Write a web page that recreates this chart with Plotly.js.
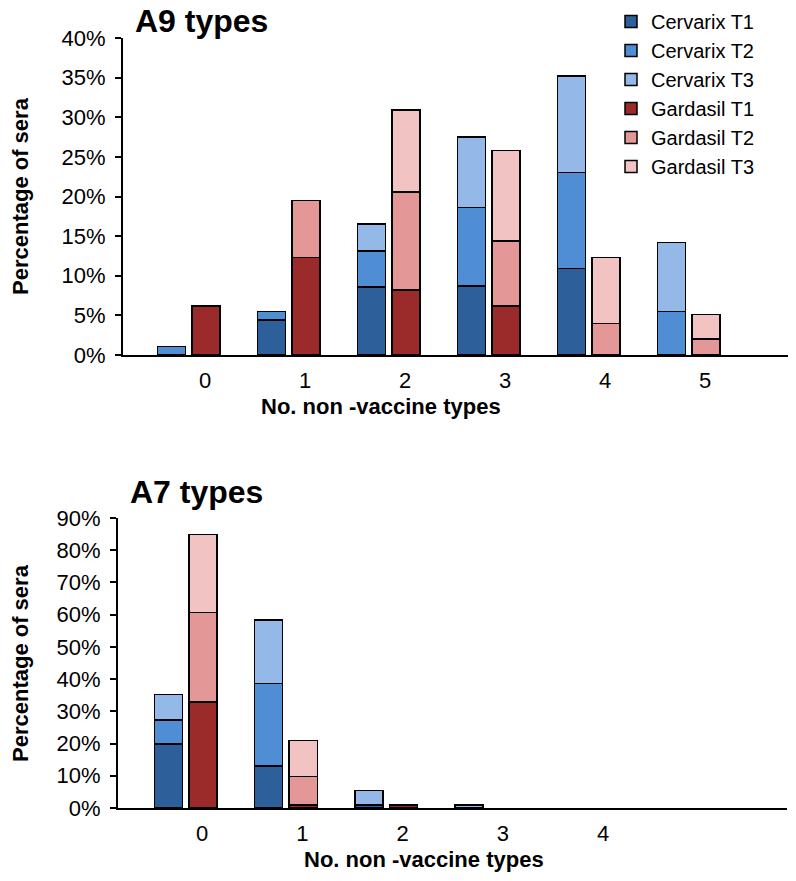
<!DOCTYPE html>
<html>
<head>
<meta charset="utf-8">
<script src="https://cdn.plot.ly/plotly-3.0.1.min.js"></script>
<style>html,body{margin:0;padding:0;background:#fff;}#chart{width:796px;height:881px;}</style>
</head>
<body>
<div id="chart"></div>
<script>
// ---- Data (segment heights, % of sera) ----
const a9Categories = [0, 1, 2, 3, 4, 5];
const a9CervarixT1 = [null, 4.4, 8.6, 8.7, 10.9, null];
const a9CervarixT2 = [1.1, 1.1, 4.5, 9.9, 12.1, 5.5];
const a9CervarixT3 = [null, null, 3.4, 8.9, 12.2, 8.7];
const a9GardasilT1 = [6.2, 12.3, 8.2, 6.2, null, null];
const a9GardasilT2 = [null, 7.2, 12.4, 8.2, 4.0, 2.0];
const a9GardasilT3 = [null, null, 10.3, 11.4, 8.3, 3.1];

const a7Categories = [0, 1, 2, 3, 4];
const a7CervarixT1 = [19.8, 13.0, 1.0, null, null];
const a7CervarixT2 = [7.5, 25.7, null, null, null];
const a7CervarixT3 = [8.0, 19.6, 4.4, 1.0, null];
const a7GardasilT1 = [32.9, 1.0, 1.0, null, null];
const a7GardasilT2 = [27.7, 8.7, null, null, null];
const a7GardasilT3 = [24.3, 11.2, null, null, null];

const seriesNames = ['Cervarix T1','Cervarix T2','Cervarix T3','Gardasil T1','Gardasil T2','Gardasil T3'];
const yTickVals9 = [0,5,10,15,20,25,30,35,40];
const yTickVals7 = [0,10,20,30,40,50,60,70,80,90];

// ---- Styling ----
const colors = ['#2D5F9A','#4F8DD5','#94B8E8','#9B2A2B','#E39897','#F2C3C3'];
const FONT = 'Liberation Sans, Arial, Helvetica, sans-serif';
const cervShift = -0.335, gardShift = 0.01, barW = 0.28;

function shift(cats, d){ return cats.map(c => c + d); }

const traces = [];
const a9 = [a9CervarixT1,a9CervarixT2,a9CervarixT3,a9GardasilT1,a9GardasilT2,a9GardasilT3];
const a7 = [a7CervarixT1,a7CervarixT2,a7CervarixT3,a7GardasilT1,a7GardasilT2,a7GardasilT3];
a9.forEach((vals,i) => {
  traces.push({
    type:'bar', name: seriesNames[i],
    x: shift(a9Categories, i < 3 ? cervShift : gardShift), y: vals, width: barW,
    xaxis:'x', yaxis:'y',
    marker:{color: colors[i], line:{color:'#000', width:1.5}},
    hoverinfo:'skip'
  });
});
a7.forEach((vals,i) => {
  traces.push({
    type:'bar', name: seriesNames[i], showlegend:false,
    x: shift(a7Categories, i < 3 ? cervShift : gardShift), y: vals, width: barW,
    xaxis:'x2', yaxis:'y2',
    marker:{color: colors[i], line:{color:'#000', width:1.5}},
    hoverinfo:'skip'
  });
});

const W = 796, H = 881;
const px = v => v / W, py = v => 1 - v / H;

const yAxisCommon = {
  showline:true, linecolor:'#000', linewidth:2, ticks:'outside', ticklen:6, tickwidth:2, tickcolor:'#000',
  showgrid:false, zeroline:false, tickmode:'array', ticklabelstandoff:5,
  tickfont:{family:FONT, size:22, color:'#000'}, fixedrange:true
};
const xAxisCommon = {
  showline:true, linecolor:'#000', linewidth:2, ticks:'', showgrid:false, zeroline:false,
  tickmode:'array', ticklabelstandoff:5, tickfont:{family:FONT, size:22, color:'#000'}, fixedrange:true
};

const layout = {
  width: W, height: H,
  margin:{l:0, r:0, t:0, b:0},
  paper_bgcolor:'#fff', plot_bgcolor:'#fff',
  barmode:'stack', bargap:0,
  showlegend:true,
  legend:{
    x: px(611), y: py(2), xanchor:'left', yanchor:'top',
    font:{family:FONT, size:20, color:'#000'},
    bgcolor:'rgba(0,0,0,0)', traceorder:'normal'
  },
  xaxis: Object.assign({}, xAxisCommon, {
    domain:[px(123), px(788)], range:[-0.82, 5.83], anchor:'y',
    tickvals: a9Categories, ticktext: a9Categories.map(String)
  }),
  yaxis: Object.assign({}, yAxisCommon, {
    domain:[py(355), py(38)], range:[0, 40], anchor:'x',
    tickvals: yTickVals9, ticktext: yTickVals9.map(v => v + '%')
  }),
  xaxis2: Object.assign({}, xAxisCommon, {
    domain:[px(118), px(787)], range:[-0.838, 5.835], anchor:'y2',
    tickvals: a7Categories, ticktext: a7Categories.map(String)
  }),
  yaxis2: Object.assign({}, yAxisCommon, {
    domain:[py(808), py(518)], range:[0, 90], anchor:'x2',
    tickvals: yTickVals7, ticktext: yTickVals7.map(v => v + '%')
  }),
  annotations:[
    {text:'A9 types', xref:'paper', yref:'paper', x:px(133), y:py(21), xanchor:'left', yanchor:'middle', showarrow:false,
     font:{family:FONT, size:32, weight:'bold', color:'#000'}},
    {text:'A7 types', xref:'paper', yref:'paper', x:px(128), y:py(492), xanchor:'left', yanchor:'middle', showarrow:false,
     font:{family:FONT, size:32, weight:'bold', color:'#000'}},
    {text:'Percentage of sera', xref:'paper', yref:'paper', x:px(20), y:py(196), xanchor:'center', yanchor:'middle', textangle:-90, showarrow:false,
     font:{family:FONT, size:22, weight:'bold', color:'#000'}},
    {text:'Percentage of sera', xref:'paper', yref:'paper', x:px(20), y:py(663), xanchor:'center', yanchor:'middle', textangle:-90, showarrow:false,
     font:{family:FONT, size:22, weight:'bold', color:'#000'}},
    {text:'No. non -vaccine types', xref:'paper', yref:'paper', x:px(381), y:py(407), xanchor:'center', yanchor:'middle', showarrow:false,
     font:{family:FONT, size:22, weight:'bold', color:'#000'}},
    {text:'No. non -vaccine types', xref:'paper', yref:'paper', x:px(424), y:py(859), xanchor:'center', yanchor:'middle', showarrow:false,
     font:{family:FONT, size:22, weight:'bold', color:'#000'}}
  ]
};

Plotly.newPlot('chart', traces, layout, {staticPlot:true, displayModeBar:false});
</script>
</body>
</html>
